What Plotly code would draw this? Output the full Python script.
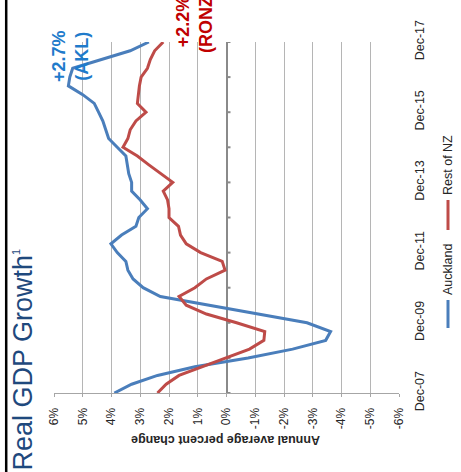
import plotly.graph_objects as go

# Quarterly periods, Dec-07 through Dec-17
months = ["Mar", "Jun", "Sep", "Dec"]
quarters = ["Dec-07"] + [f"{m}-{y:02d}" for y in range(8, 18) for m in months]

# Annual average percent change in real GDP
auckland = [3.9, 3.3, 2.4, 1.1, -0.75, -2.3, -3.45, -3.62, -2.8, -1.1,
            0.6, 2.3, 2.9, 3.25, 3.43, 3.5, 3.8, 4.02, 3.65, 3.15,
            3.05, 2.75, 3.0, 3.3, 3.3, 3.4, 3.45, 3.5, 3.8, 4.1,
            4.2, 4.3, 4.45, 4.6, 5.0, 5.5, 5.45, 5.35, 4.35, 3.35,
            2.7]
rest_nz = [2.4, 2.1, 1.65, 0.85, 0.05, -0.8, -1.3, -1.33, -0.35, 0.7,
           1.4, 1.65, 1.1, 0.7, 0.05, 0.15, 0.9, 1.4, 1.6, 1.67,
           2.0, 2.0, 2.05, 2.2, 1.87, 2.3, 2.7, 3.1, 3.6, 3.43,
           3.35, 3.15, 2.8, 3.1, 3.07, 3.03, 2.97, 2.75, 2.65, 2.5,
           2.2]

date_labels = ["Dec-07", "Dec-09", "Dec-11", "Dec-13", "Dec-15", "Dec-17"]
pct_ticks = [6, 5, 4, 3, 2, 1, 0, -1, -2, -3, -4, -5, -6]
pct_labels = ["6%", "5%", "4%", "3%", "2%", "1%", "0%",
              "-1%", "-2%", "-3%", "-4%", "-5%", "-6%"]

series_names = ["Auckland", "Rest of NZ"]
blue_line = "#4A7EBB"
red_line = "#BE4B48"
FONT = "Liberation Sans, Arial, sans-serif"

W, H = 461, 472
ML, MR, MT, MB = 54, 62, 42, 79
PW, PH = W - ML - MR, H - MT - MB


def px(xpix):
    return (xpix - ML) / PW


def py(ypix):
    return (H - MB - ypix) / PH


pos = list(range(len(quarters)))
tick_pos = [quarters.index(d) for d in date_labels]

fig = go.Figure()
fig.add_trace(go.Scatter(x=auckland, y=pos, mode="lines", name=series_names[0],
                         line=dict(color=blue_line, width=3)))
fig.add_trace(go.Scatter(x=rest_nz, y=pos, mode="lines", name=series_names[1],
                         line=dict(color=red_line, width=3)))

axis_grey = "#A6A6A6"
zero_grey = "#8A8A8A"
fig.update_layout(
    width=W, height=H,
    margin=dict(l=ML, r=MR, t=MT, b=MB),
    paper_bgcolor="white", plot_bgcolor="white",
    showlegend=False,
    font=dict(family=FONT, color="#262626"),
    xaxis=dict(
        range=[6, -6], tickmode="array", tickvals=pct_ticks, ticktext=pct_labels,
        tickangle=-90, tickfont=dict(size=12, color="#262626"),
        showgrid=True, gridcolor="#B5B5B5", gridwidth=1,
        zeroline=True, zerolinecolor=zero_grey, zerolinewidth=2,
        showline=True, linecolor=axis_grey, linewidth=1,
        ticks="outside", ticklen=3, tickcolor=axis_grey, ticklabelstandoff=6,
    ),
    yaxis=dict(
        range=[0, len(quarters) - 1], side="right",
        tickmode="array", tickvals=tick_pos, ticktext=date_labels,
        tickangle=-90, tickfont=dict(size=12.5, color="#262626"),
        showgrid=False, zeroline=False, showline=False, ticks="",
        ticklabelstandoff=11,
    ),
)

annotations = [
    # chart title
    dict(text="Real GDP Growth<sup><span style='font-size:11px'>1</span></sup>",
         x=px(22.5), y=py(360),
         textangle=-90, font=dict(size=27, color="#1F497D", family=FONT)),
    # value axis title
    dict(text="<b>Annual average percent change</b>", x=px(226), y=py(440),
         textangle=180, font=dict(size=12.5, color="#262626", family=FONT)),
    # latest readings
    dict(text=f"<b>+{auckland[-1]:.1f}%<br>(AKL)</b>", x=px(70), y=py(56),
         textangle=-90, font=dict(size=18, color="#1F7BCB", family=FONT)),
    dict(text=f"<b>+{rest_nz[-1]:.1f}%<br>(RONZ)</b>", x=px(194), y=py(22),
         textangle=-90, font=dict(size=18, color="#C00000", family=FONT)),
    # legend labels
    dict(text=series_names[0], x=px(448), y=py(270), textangle=-90,
         font=dict(size=12.5, color="#262626", family=FONT)),
    dict(text=series_names[1], x=px(448), y=py(165), textangle=-90,
         font=dict(size=12.5, color="#262626", family=FONT)),
]
for a in annotations:
    a.update(xref="paper", yref="paper", showarrow=False,
             xanchor="center", yanchor="middle")
fig.update_layout(annotations=annotations)

shapes = [
    # legend keys
    dict(type="line", xref="paper", yref="paper",
         x0=px(448), x1=px(448), y0=py(328), y1=py(300),
         line=dict(color=blue_line, width=3)),
    dict(type="line", xref="paper", yref="paper",
         x0=px(448), x1=px(448), y0=py(230), y1=py(200),
         line=dict(color=red_line, width=3)),
    # frame rule along the left edge
    dict(type="line", xref="paper", yref="paper",
         x0=px(6.2), x1=px(6.2), y0=py(H), y1=py(0),
         line=dict(color="black", width=2.5)),
]
# yearly tick marks on the zero line, pointing towards the negative side
zero_x = px(ML + PW * 6 / 12)
for q in range(0, len(quarters), 4):
    shapes.append(dict(type="line", xref="paper", yref="y",
                       x0=zero_x, x1=zero_x + 4 / PW, y0=q, y1=q,
                       line=dict(color=zero_grey, width=2), layer="below"))
fig.update_layout(shapes=shapes)

fig.write_html("out.html")
